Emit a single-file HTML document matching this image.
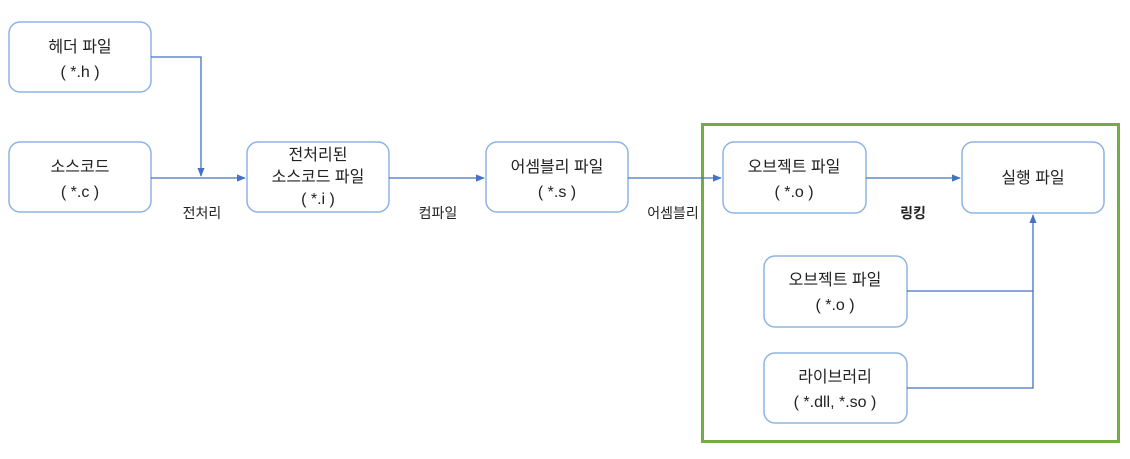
<!DOCTYPE html>
<html><head><meta charset="utf-8"><style>
html,body{margin:0;padding:0;background:#fff;}
svg text{font-family:"Liberation Sans","Noto Sans CJK KR",sans-serif;font-size:16px;fill:#222;}
</style></head><body>
<svg width="1130" height="454" viewBox="0 0 1130 454" xmlns="http://www.w3.org/2000/svg">
<defs><marker id="a" viewBox="0 0 10 10" refX="9" refY="5" markerWidth="7" markerHeight="7" orient="auto"><path d="M0,1 L10,5 L0,9 z" fill="#4472c4"/></marker></defs>
<rect x="702.5" y="124.5" width="416" height="317" fill="none" stroke="#70ad47" stroke-width="3"/>
<g fill="#fff" stroke="#8db3e2" stroke-width="1.5">
<rect x="9" y="22" width="142" height="70" rx="11"/>
<rect x="9" y="142" width="142" height="70" rx="11"/>
<rect x="247" y="142" width="142" height="70" rx="11"/>
<rect x="486" y="142" width="142" height="70" rx="11"/>
<rect x="723" y="142" width="143" height="71" rx="11"/>
<rect x="962" y="142" width="142" height="71" rx="11"/>
<rect x="764" y="256" width="143" height="71" rx="11"/>
<rect x="764" y="353" width="143" height="70" rx="11"/>
</g>
<g stroke="#4472c4" stroke-width="1.3" fill="none">
<path d="M151,57 H201 V176" marker-end="url(#a)"/>
<path d="M151,178 H245" marker-end="url(#a)"/>
<path d="M389,178 H484" marker-end="url(#a)"/>
<path d="M628,178 H721" marker-end="url(#a)"/>
<path d="M866,178 H960" marker-end="url(#a)"/>
<path d="M907,291 H1033"/>
<path d="M907,388 H1033 V215" marker-end="url(#a)"/>
</g>
<g text-anchor="middle">
<text x="80" y="52">헤더 파일</text><text x="80" y="77">( *.h )</text>
<text x="80" y="172">소스코드</text><text x="80" y="197">( *.c )</text>
<text x="318" y="160">전처리된</text><text x="318" y="182">소스코드 파일</text><text x="318" y="204">( *.i )</text>
<text x="557" y="172">어셈블리 파일</text><text x="557" y="197">( *.s )</text>
<text x="794" y="172">오브젝트 파일</text><text x="794" y="197">( *.o )</text>
<text x="1033" y="183">실행 파일</text>
<text x="835" y="285">오브젝트 파일</text><text x="835" y="310">( *.o )</text>
<text x="835" y="382">라이브러리</text><text x="835" y="407">( *.dll, *.so )</text>
<text x="202" y="218" style="font-size:14px">전처리</text>
<text x="438" y="218" style="font-size:14px">컴파일</text>
<text x="673" y="218" style="font-size:14px">어셈블리</text>
<text x="913" y="218" style="font-size:14px;font-weight:bold">링킹</text>
</g>
</svg>
</body></html>
